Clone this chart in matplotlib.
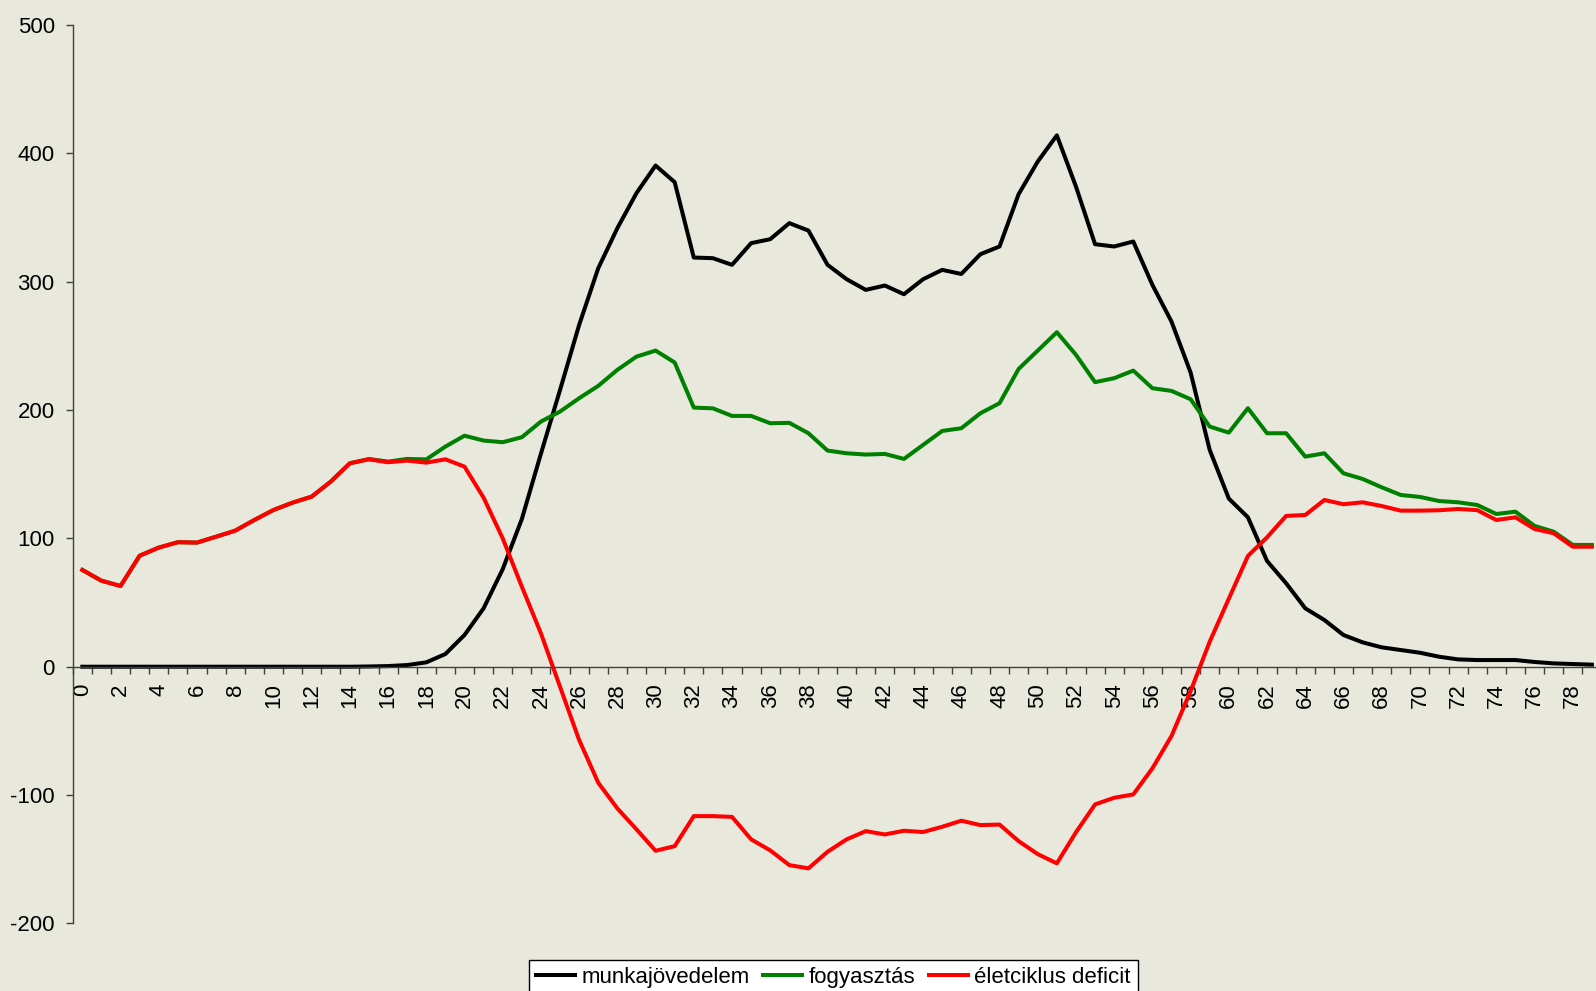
import numpy as np
import matplotlib
matplotlib.use('Agg')
import matplotlib.pyplot as plt

# age 0..79
ages = list(range(80))

munkajovedelem = [0, 0, 0, 0, 0, 0, 0, 0, 0, 0,
                  0, 0, 0, 0, 0, 0.2, 0.5, 1.3, 3.4, 9.9,
                  24.7, 45.5, 76, 115, 166, 215.6, 266.3, 310.5, 341.7, 369,
                  390.5, 377.5, 318.8, 318.3, 313.1, 330, 333.1, 345.6, 339.8, 313.1,
                  301.9, 293.6, 297, 290.2, 301.9, 309.2, 306, 321.4, 327.4, 368.2,
                  393.6, 414, 374.1, 329.2, 327.4, 331.3, 297.5, 268.9, 229.2, 168.9,
                  131, 116.4, 82.4, 65, 45.5, 36.4, 24.7, 19, 15.1, 13,
                  10.9, 7.8, 5.7, 5.2, 5.2, 5.2, 3.7, 2.6, 2.1, 1.6]

fogyasztas = [75.4, 67, 62.9, 86.5, 92.8, 97, 96.7, 101.3, 106, 114.3,
              122.1, 127.8, 132.5, 144.2, 158.5, 161.8, 159.8, 161.9, 161.5, 171.5,
              180, 176.2, 174.9, 178.8, 191, 198.8, 209.2, 218.8, 231.3, 241.6,
              246.3, 237, 201.9, 201.3, 195.4, 195.4, 189.7, 190, 181.9, 168.4,
              166.3, 165.3, 165.8, 161.9, 172.8, 183.7, 185.8, 197.5, 205.3, 232,
              246.3, 260.6, 243, 221.7, 224.8, 230.7, 217, 214.9, 208.4, 187.1,
              182.4, 201.4, 181.9, 181.9, 163.7, 166.3, 150.7, 146.3, 139.8, 133.8,
              132.3, 129.1, 128.1, 126, 119, 120.8, 109.7, 105.2, 94.9, 94.9]

eletciklus_deficit = [75.4, 67, 62.9, 86.5, 92.8, 97, 96.7, 101.3, 106, 114.3,
                      122.1, 127.8, 132.5, 144.2, 158.5, 161.6, 159.3, 160.6, 159, 161.6,
                      155.9, 131.7, 100, 62.4, 26, -15.6, -57.1, -90.4, -110.4, -126.7,
                      -143.4, -139.8, -116.4, -116.4, -117, -134.5, -143.1, -154.6, -157.1, -144.2,
                      -134.5, -128.1, -130.7, -127.8, -128.8, -124.7, -120, -123.4, -123, -135.9,
                      -146, -153.2, -129, -107.3, -102.1, -99.5, -79.2, -54, -19, 19.5,
                      53, 86.3, 100.8, 117.5, 118.2, 129.9, 126.6, 128.1, 125.2, 121.6,
                      121.6, 121.9, 122.9, 122, 114.3, 116.4, 107.3, 104, 93.5, 93.5]

labels = ['munkajövedelem', 'fogyasztás', 'életciklus deficit']

plt.rcParams['font.family'] = ['Liberation Sans', 'DejaVu Sans']
plt.rcParams['axes.unicode_minus'] = False

bg = '#E8E9DC'
axis_col = '#404040'
lw = 2.9

fig = plt.figure(figsize=(15.96, 9.91), dpi=100, facecolor=bg)
ax = fig.add_axes([0.0456, 0.0682, 0.9578, 0.9066])
ax.set_facecolor(bg)

ax.plot(ages, munkajovedelem, color='black', lw=lw, label=labels[0])
ax.plot(ages, fogyasztas, color='#008000', lw=lw, label=labels[1])
ax.plot(ages, eletciklus_deficit, color='#FF0000', lw=lw, label=labels[2])

ax.set_xlim(-0.5, 79.5)
ax.set_ylim(-200, 500)
ax.set_yticks(range(-200, 501, 100))
ax.set_xticks(ages[::2])
ax.set_xticklabels([str(a) for a in ages[::2]])
ax.set_xticks(np.arange(-0.5, 80, 1), minor=True)

ax.tick_params(axis='x', which='major', length=0, pad=12, labelsize=16, labelrotation=90)
ax.tick_params(axis='x', which='minor', length=5, width=1, direction='out', color=axis_col)
ax.tick_params(axis='y', length=5, width=1, pad=8, labelsize=16, color=axis_col)

ax.spines['bottom'].set_position(('data', 0))
ax.spines['top'].set_visible(False)
ax.spines['right'].set_visible(False)
for s in ['left', 'bottom']:
    ax.spines[s].set_color(axis_col)
    ax.spines[s].set_linewidth(1)

leg = fig.legend(loc='upper center', bbox_to_anchor=(833.5 / 1596, 1 - 960 / 991),
                 ncol=3, frameon=True, fancybox=False, edgecolor='black',
                 facecolor='white', framealpha=1, fontsize=16,
                 handlelength=1.75, handletextpad=0.3, columnspacing=0.6,
                 borderpad=0.3, borderaxespad=0)
leg.get_frame().set_linewidth(1)

fig.savefig('out.png', dpi=100, facecolor=bg)
